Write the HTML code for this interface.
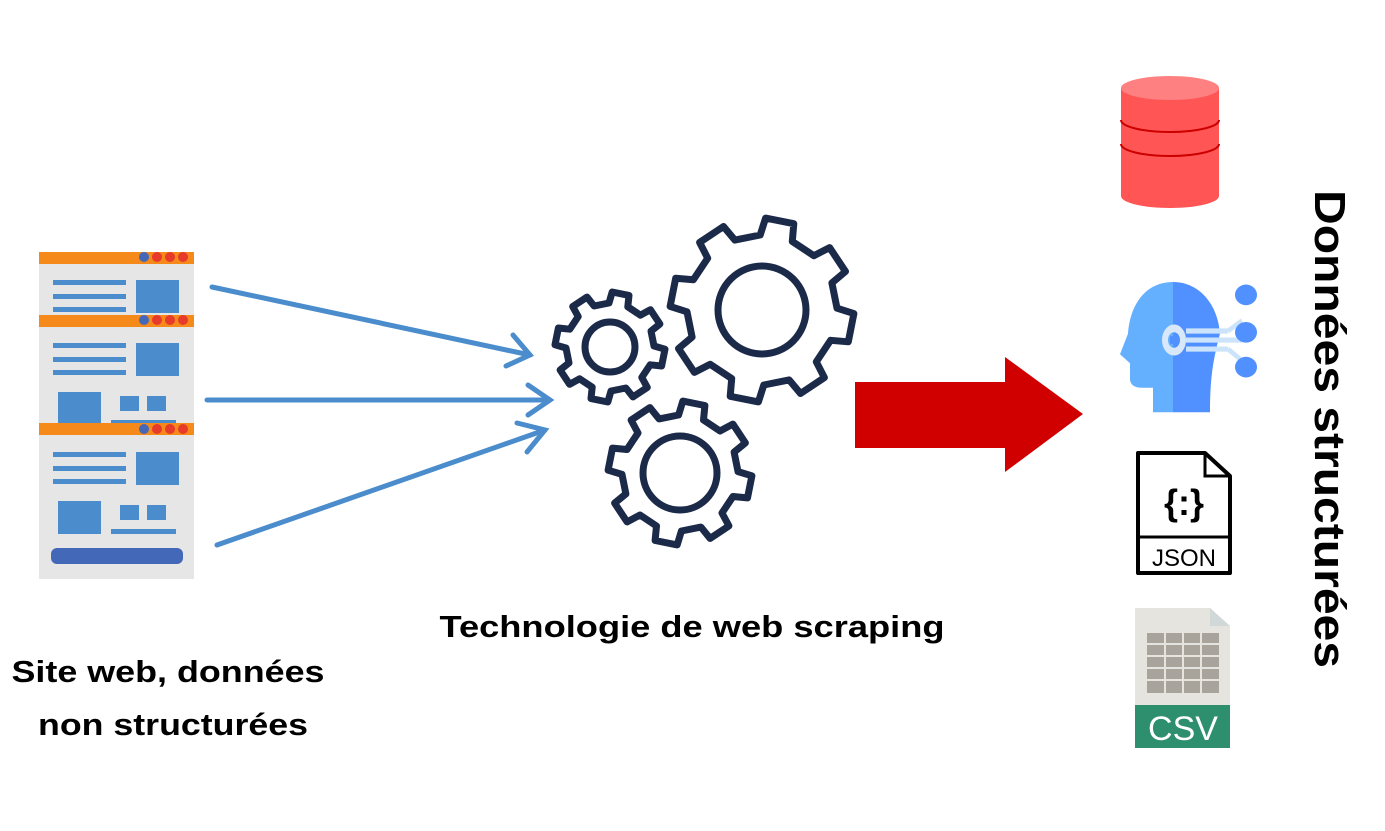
<!DOCTYPE html>
<html><head><meta charset="utf-8"><style>
html,body{margin:0;padding:0;background:#fff;}
svg{display:block}
text{font-family:"Liberation Sans",Arial,sans-serif;font-weight:bold;fill:#000}
</style></head><body>
<svg id="s" width="1385" height="831" viewBox="0 0 1385 831" xmlns="http://www.w3.org/2000/svg">
<rect x="39" y="252" width="155" height="327" fill="#e6e6e6"/>
<g fill="#4a8ccc">
<rect x="39" y="252" width="155" height="12" fill="#f5891a"/>
<rect x="53" y="280" width="73" height="5"/><rect x="53" y="294" width="73" height="5"/><rect x="53" y="307" width="73" height="5"/>
<rect x="136" y="280" width="43" height="33"/>
<rect x="39" y="315" width="155" height="12" fill="#f5891a"/>
<rect x="53" y="343" width="73" height="5"/><rect x="53" y="357" width="73" height="5"/><rect x="53" y="370" width="73" height="5"/>
<rect x="136" y="343" width="43" height="33"/>
<rect x="58" y="392" width="43" height="32"/><rect x="120" y="396" width="19" height="15"/><rect x="147" y="396" width="19" height="15"/>
<rect x="111" y="420" width="65" height="4"/>
<rect x="39" y="423" width="155" height="12" fill="#f5891a"/>
<rect x="53" y="452" width="73" height="5"/><rect x="53" y="466" width="73" height="5"/><rect x="53" y="479" width="73" height="5"/>
<rect x="136" y="452" width="43" height="33"/>
<rect x="58" y="501" width="43" height="33"/><rect x="120" y="505" width="19" height="15"/><rect x="147" y="505" width="19" height="15"/>
<rect x="111" y="529" width="65" height="5"/>
<rect x="51" y="548" width="132" height="16" rx="6" fill="#4468b8"/>
</g>
<g>
<circle cx="144" cy="257" r="5" fill="#4468b8"/><circle cx="157" cy="257" r="5" fill="#e63a2a"/><circle cx="170" cy="257" r="5" fill="#e63a2a"/><circle cx="183" cy="257" r="5" fill="#e63a2a"/>
<circle cx="144" cy="320" r="5" fill="#4468b8"/><circle cx="157" cy="320" r="5" fill="#e63a2a"/><circle cx="170" cy="320" r="5" fill="#e63a2a"/><circle cx="183" cy="320" r="5" fill="#e63a2a"/>
<circle cx="144" cy="429" r="5" fill="#4468b8"/><circle cx="157" cy="429" r="5" fill="#e63a2a"/><circle cx="170" cy="429" r="5" fill="#e63a2a"/><circle cx="183" cy="429" r="5" fill="#e63a2a"/>
</g>
<g stroke="#4a8ccc" stroke-width="5" fill="none" stroke-linecap="round">
<line x1="212" y1="287" x2="530" y2="355"/>
<polyline points="513,335 530,355 506,366"/>
<line x1="207" y1="400" x2="550" y2="400"/>
<polyline points="528,385 550,400 528,415"/>
<line x1="217" y1="545" x2="545" y2="430"/>
<polyline points="517,423 545,430 527,452"/>
</g>
<g id="gears" stroke="#1c2a4a" stroke-width="7" fill="none" stroke-linejoin="round" stroke-linecap="round">
<circle cx="610" cy="347" r="25"/>
<circle cx="762" cy="310" r="44"/>
<circle cx="680" cy="473" r="37"/>
</g>
<polygon points="855,382 1005,382 1005,357 1083,414 1005,472 1005,448 855,448" fill="#d10000"/>
<g>
<path d="M1121,88 L1121,196 A49,12 0 0 0 1219,196 L1219,88 Z" fill="#ff5555"/>
<ellipse cx="1170" cy="88" rx="49" ry="12" fill="#ff8080"/>
<path d="M1121,120 A49,12 0 0 0 1219,120" stroke="#cc0000" stroke-width="2" fill="none"/>
<path d="M1121,144 A49,12 0 0 0 1219,144" stroke="#cc0000" stroke-width="2" fill="none"/>
</g>
<g transform="translate(0,-4.4) scale(1,1.29)">
<path d="M1173,222 C1145,222 1130,240 1128,262 L1120,278 L1130,285 L1130,297 C1130,302 1135,304 1142,304 L1153,304 L1153,323 L1173,323 Z" fill="#64b0ff"/>
<path d="M1173,222 C1200,222 1218,240 1220,262 C1212,285 1210,300 1210,323 L1173,323 Z" fill="#5090ff"/>
<path d="M1186,260 L1228,260 M1186,267 L1242,267 M1186,274 L1228,274 M1228,260 L1242,252 M1228,274 L1242,283" stroke="#cce4fb" stroke-width="4" fill="none"/>
<circle cx="1174" cy="267" r="9" fill="none" stroke="#d8e8f8" stroke-width="6"/>
<rect x="1170" y="264" width="6" height="6" fill="#5090ff"/>
<ellipse cx="1246" cy="232" rx="11" ry="8" fill="#5090ff"/>
<ellipse cx="1246" cy="261" rx="11" ry="8" fill="#5090ff"/>
<ellipse cx="1246" cy="288" rx="11" ry="8" fill="#5090ff"/>
</g>
<g>
<path d="M1138,453 L1205,453 L1230,476 L1230,573 L1138,573 Z" fill="#fff" stroke="#000" stroke-width="4" stroke-linejoin="round"/>
<path d="M1205,453 L1205,476 L1230,476" fill="none" stroke="#000" stroke-width="3"/>
<line x1="1138" y1="537" x2="1230" y2="537" stroke="#000" stroke-width="3"/>
<text x="1184" y="515" font-family="Liberation Mono" font-size="36" text-anchor="middle">{:}</text>
<text x="1184" y="566" font-size="24" text-anchor="middle" style="font-weight:normal">JSON</text>
</g>
<g>
<path d="M1135,608 L1210,608 L1230,626 L1230,748 L1135,748 Z" fill="#e6e4de"/>
<path d="M1210,608 L1230,626 L1210,626 Z" fill="#d0d8d8"/>
<rect x="1147" y="633" width="72" height="60" fill="#a8a49c"/>
<g stroke="#e6e4de" stroke-width="2">
<line x1="1147" y1="644" x2="1219" y2="644"/><line x1="1147" y1="656" x2="1219" y2="656"/><line x1="1147" y1="668" x2="1219" y2="668"/><line x1="1147" y1="680" x2="1219" y2="680"/>
<line x1="1165" y1="633" x2="1165" y2="693"/><line x1="1183" y1="633" x2="1183" y2="693"/><line x1="1201" y1="633" x2="1201" y2="693"/>
</g>
<rect x="1135" y="705" width="95" height="43" fill="#2e8f6e"/>
<text x="1183" y="740" font-family="Liberation Mono" font-size="34" text-anchor="middle" style="fill:#fff;font-weight:normal">CSV</text>
</g>
<text x="692" y="637" font-size="31" text-anchor="middle" textLength="505" lengthAdjust="spacingAndGlyphs">Technologie de web scraping</text>
<text x="168" y="682" font-size="31" text-anchor="middle" textLength="313" lengthAdjust="spacingAndGlyphs">Site web, données</text>
<text x="173" y="735" font-size="31" text-anchor="middle" textLength="270" lengthAdjust="spacingAndGlyphs">non structurées</text>
<text transform="translate(1315,429) rotate(90)" x="0" y="0" font-size="44" text-anchor="middle" textLength="478" lengthAdjust="spacingAndGlyphs">Données structurées</text>
</svg>
<script>
(function(){
function gear(cx,cy,R,r,n){
 var d="",step=2*Math.PI/n,tw=step*0.2,bw=step*0.28;
 for(var i=0;i<n;i++){
  var a=i*step+step/4;
  var p=[[r,a-bw],[R,a-tw],[R,a+tw],[r,a+bw]];
  for(var j=0;j<4;j++){
   var x=cx+p[j][0]*Math.cos(p[j][1]),y=cy+p[j][0]*Math.sin(p[j][1]);
   d+=(i==0&&j==0?"M":"L")+x.toFixed(1)+","+y.toFixed(1)+" ";
  }
 }
 return d+"Z";
}
var g=document.getElementById("gears");
[[610,347,55,44,8],[762,310,92,75,8],[680,473,72,58,8]].forEach(function(c){
 var p=document.createElementNS("http://www.w3.org/2000/svg","path");
 p.setAttribute("d",gear.apply(null,c));g.appendChild(p);
});
})();
</script>
</body></html>
